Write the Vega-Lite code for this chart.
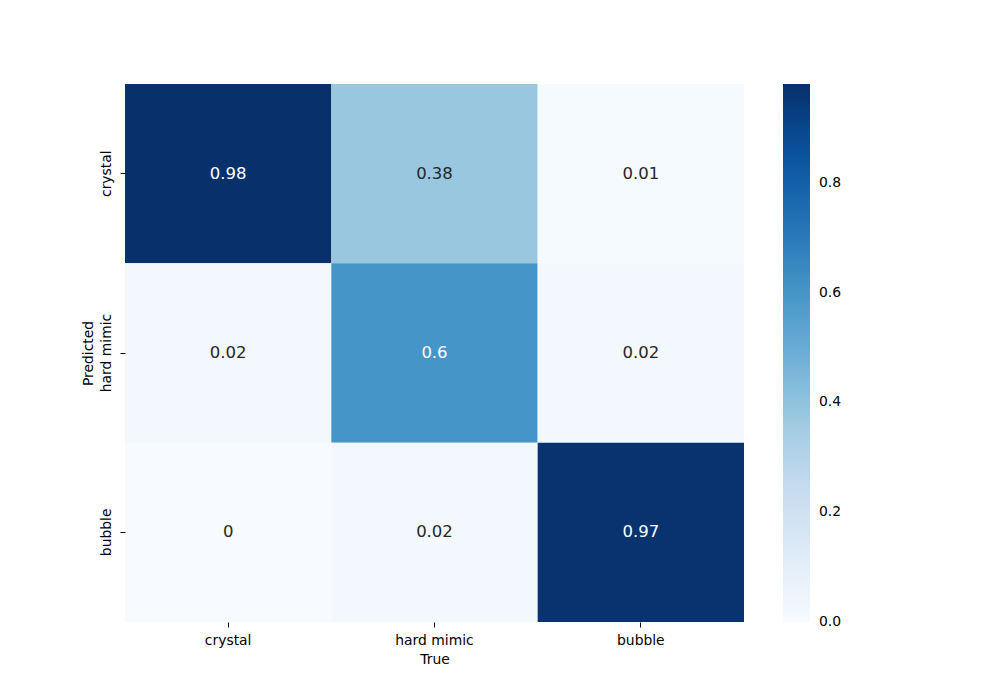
{
  "$schema": "https://vega.github.io/schema/vega-lite/v6.json",
  "width": 619,
  "height": 538,
  "autosize": {"type": "none"},
  "padding": {"left": 125, "top": 84, "right": 256, "bottom": 78},
  "background": "white",
  "config": {"view": {"stroke": null}, "font": "DejaVu Sans"},
  "data": {
    "values": [
      {"predicted": "crystal", "true": "crystal", "value": 0.98},
      {"predicted": "crystal", "true": "hard mimic", "value": 0.38},
      {"predicted": "crystal", "true": "bubble", "value": 0.01},
      {"predicted": "hard mimic", "true": "crystal", "value": 0.02},
      {"predicted": "hard mimic", "true": "hard mimic", "value": 0.6},
      {"predicted": "hard mimic", "true": "bubble", "value": 0.02},
      {"predicted": "bubble", "true": "crystal", "value": 0},
      {"predicted": "bubble", "true": "hard mimic", "value": 0.02},
      {"predicted": "bubble", "true": "bubble", "value": 0.97}
    ]
  },
  "encoding": {
    "x": {
      "field": "true", "type": "nominal",
      "sort": ["crystal", "hard mimic", "bubble"],
      "scale": {"paddingInner": 0, "paddingOuter": 0},
      "axis": {
        "title": "True", "labelAngle": 0, "labelFontSize": 13.9, "titleFontSize": 13.9,
        "titleFontWeight": "normal", "labelColor": "black", "titleColor": "black",
        "tickColor": "black", "tickSize": 5, "domain": false, "labelPadding": 6, "titlePadding": 6
      }
    },
    "y": {
      "field": "predicted", "type": "nominal",
      "sort": ["crystal", "hard mimic", "bubble"],
      "scale": {"paddingInner": 0, "paddingOuter": 0},
      "axis": {
        "title": "Predicted", "labelAngle": 270, "labelAlign": "center", "labelBaseline": "bottom",
        "labelFontSize": 13.9, "titleFontSize": 13.9,
        "titleFontWeight": "normal", "labelColor": "black", "titleColor": "black",
        "tickColor": "black", "tickSize": 5, "domain": false, "labelPadding": 7, "titlePadding": 4
      }
    }
  },
  "layer": [
    {
      "mark": {"type": "rect", "strokeWidth": 0},
      "encoding": {
        "color": {
          "field": "value", "type": "quantitative",
          "scale": {
            "domain": [0, 0.98], "nice": false, "interpolate": "rgb",
            "range": ["#f7fbff", "#deebf7", "#c6dbef", "#9ecae1", "#6baed6", "#4292c6", "#2171b5", "#08519c", "#08306b"]
          },
          "legend": {
            "orient": "none", "legendX": 658, "legendY": 0, "direction": "vertical",
            "gradientLength": 538, "gradientThickness": 27, "title": null,
            "values": [0, 0.2, 0.4, 0.6, 0.8], "format": ".1f",
            "labelFontSize": 13.9, "labelColor": "black", "labelOffset": 9,
            "labelBaseline": "middle", "labelOverlap": false,
            "gradientStrokeWidth": 0,
            "encode": {"labels": {"update": {"baseline": {"value": "middle"}}}}
          }
        }
      }
    },
    {
      "mark": {"type": "text", "fontSize": 16.5},
      "encoding": {
        "text": {"field": "value", "type": "quantitative", "format": "~g"},
        "color": {
          "condition": {"test": "datum.value > 0.5", "value": "white"},
          "value": "#262626"
        }
      }
    }
  ]
}
